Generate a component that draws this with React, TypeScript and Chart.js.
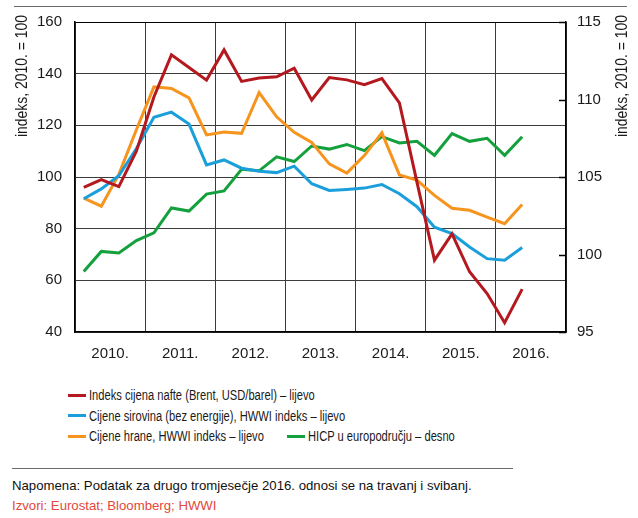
import React, { useEffect, useRef } from "react";
import { Chart, registerables } from "chart.js";

Chart.register(...registerables);

const quarters = [
  "2010Q1", "2010Q2", "2010Q3", "2010Q4",
  "2011Q1", "2011Q2", "2011Q3", "2011Q4",
  "2012Q1", "2012Q2", "2012Q3", "2012Q4",
  "2013Q1", "2013Q2", "2013Q3", "2013Q4",
  "2014Q1", "2014Q2", "2014Q3", "2014Q4",
  "2015Q1", "2015Q2", "2015Q3", "2015Q4",
  "2016Q1", "2016Q2",
];
const yearLabels = ["2010.", "2011.", "2012.", "2013.", "2014.", "2015.", "2016."];

const oil = [96, 99, 96.3, 110, 131, 147.3, 142.4, 137.5, 149.2, 137, 138.3, 138.8, 142.1, 129.8, 138.5, 137.6, 135.7, 138.1, 128.7, 98, 67.8, 78, 63.3, 54.9, 43.6, 56.6];
const rawMaterials = [91.6, 95.4, 100.5, 111, 123.1, 125.1, 120.5, 104.7, 106.6, 103.4, 102.2, 101.7, 104.2, 97.4, 94.8, 95.2, 95.7, 97.1, 93.5, 88.5, 80.6, 78.1, 72.9, 68.4, 67.8, 72.7];
const food = [91.8, 88.7, 101, 118.3, 134.9, 134.3, 130.6, 116.3, 117.4, 116.9, 132.7, 123.3, 117.3, 113.4, 105.1, 101.5, 108.3, 117.1, 100.8, 98.8, 92.9, 87.9, 87.1, 84.5, 81.9, 89.4];
const hicp = [98.9, 100.2, 100.1, 100.9, 101.4, 103.0, 102.8, 103.9, 104.1, 105.5, 105.4, 106.3, 106.0, 107.0, 106.8, 107.1, 106.7, 107.6, 107.2, 107.3, 106.4, 107.8, 107.3, 107.5, 106.4, 107.6];

const legendItems = [
  "Indeks cijena nafte (Brent, USD/barel) – lijevo",
  "Cijene sirovina (bez energije), HWWI indeks – lijevo",
  "Cijene hrane, HWWI indeks – lijevo",
  "HICP u europodručju – desno",
];
const yTitle = "indeks, 2010. = 100";
const noteText = "Napomena: Podatak za drugo tromjesečje 2016. odnosi se na travanj i svibanj.";
const sourceText = "Izvori: Eurostat; Bloomberg; HWWI";

const RED = "#b3191f";
const BLUE = "#1a9fdb";
const ORANGE = "#f7941d";
const GREEN = "#14a03c";

const SANS = '"Liberation Sans", Arial, sans-serif';
const TEXT = "#1a1a1a";

const toPoints = (arr: number[]) => arr.map((v, i) => ({ x: i + 0.5, y: v }));

const decor = {
  id: "decor",
  afterDraw(chart: any) {
    const ctx = chart.ctx;
    const y1 = chart.scales.y1;
    const area = chart.chartArea;
    ctx.save();
    ctx.strokeStyle = "#000";
    ctx.lineWidth = 1.5;
    y1.ticks.forEach((t: any) => {
      const py = Math.round(y1.getPixelForValue(t.value)) + 0.5;
      ctx.beginPath();
      ctx.moveTo(area.right - 7, py);
      ctx.lineTo(area.right, py);
      ctx.stroke();
    });
    ctx.font = "17px " + SANS;
    ctx.fillStyle = TEXT;
    ctx.textAlign = "right";
    ctx.textBaseline = "middle";
    [22, 622].forEach((x) => {
      ctx.save();
      ctx.translate(x, 15);
      ctx.rotate(-Math.PI / 2);
      ctx.scale(0.82, 1);
      ctx.fillText(yTitle, 0, 0);
      ctx.restore();
    });
    ctx.restore();
  },
};

function ChartCanvas() {
  const ref = useRef<HTMLCanvasElement | null>(null);
  useEffect(() => {
    if (!ref.current) return;
    const tickFont = { family: SANS, size: 15 };
    const chart = new Chart(ref.current, {
      type: "line",
      data: {
        datasets: [
          { label: legendItems[0], data: toPoints(oil), borderColor: RED, yAxisID: "y" },
          { label: legendItems[1], data: toPoints(rawMaterials), borderColor: BLUE, yAxisID: "y" },
          { label: legendItems[2], data: toPoints(food), borderColor: ORANGE, yAxisID: "y" },
          { label: legendItems[3], data: toPoints(hicp), borderColor: GREEN, yAxisID: "y1" },
        ].map((d) => ({ ...d, borderWidth: 3, pointRadius: 0, tension: 0, fill: false })),
      },
      options: {
        animation: false,
        responsive: false,
        events: [],
        layout: { padding: { top: 21, left: 0, right: 0, bottom: 0 } },
        plugins: { legend: { display: false }, tooltip: { enabled: false } },
        scales: {
          x: {
            type: "linear",
            min: 0,
            max: quarters.length + 2,
            afterBuildTicks: (s: any) => {
              const t = [];
              for (let v = 0; v <= 28; v += 2) t.push({ value: v });
              s.ticks = t;
            },
            afterFit: (s: any) => { s.height = 38; },
            ticks: {
              autoSkip: false,
              maxRotation: 0,
              padding: 13,
              color: TEXT,
              font: tickFont,
              callback: (v: any) => (v % 4 === 2 ? yearLabels[(v - 2) / 4] : ""),
            },
            grid: {
              drawTicks: false,
              lineWidth: 1,
              color: (c: any) => (c.tick && c.tick.value % 4 === 0 ? "#3c3c3c" : "rgba(0,0,0,0)"),
            },
            border: { display: true, color: "#000", width: 1.5 },
          },
          y: {
            position: "left",
            min: 40,
            max: 160,
            afterFit: (s: any) => { s.width = 75; },
            ticks: { stepSize: 20, padding: 13, color: TEXT, font: tickFont },
            grid: {
              drawTicks: false,
              lineWidth: 1,
              color: (c: any) => (c.tick && c.tick.value === 160 ? "#000" : "#3c3c3c"),
            },
            border: { display: true, color: "#000", width: 1.5 },
          },
          y1: {
            position: "right",
            min: 95,
            max: 115,
            afterFit: (s: any) => { s.width = 72; },
            ticks: { stepSize: 5, padding: 11, color: TEXT, font: tickFont },
            grid: { drawOnChartArea: false, drawTicks: false },
            border: { display: true, color: "#000", width: 1.5 },
          },
        },
      } as any,
      plugins: [decor],
    });
    return () => chart.destroy();
  }, []);
  return <canvas ref={ref} width={638} height={370} style={{ position: "absolute", left: 0, top: 0, width: 638, height: 370 }} />;
}

function LegendRow({ color, text, top, left }: { color: string; text: string; top: number; left: number }) {
  return (
    <div style={{ position: "absolute", top, left, height: 20, display: "flex", alignItems: "center", whiteSpace: "nowrap" }}>
      <span style={{ display: "inline-block", width: 18, height: 3, background: color, marginRight: 3, flex: "none" }} />
      <span
        style={{
          display: "inline-block",
          fontFamily: SANS,
          fontSize: 15.5,
          lineHeight: "20px",
          color: TEXT,
          transform: "scaleX(0.72)",
          transformOrigin: "left center",
        }}
      >
        {text}
      </span>
    </div>
  );
}

export default function App() {
  return (
    <div style={{ position: "absolute", left: 0, top: 0, width: 638, height: 518, background: "#fff", overflow: "hidden" }}>
      <div style={{ position: "absolute", left: 14, top: 6, width: 613, height: 1, background: "#6b6b6b" }} />
      <ChartCanvas />
      <LegendRow color={RED} text={legendItems[0]} top={385} left={68} />
      <LegendRow color={BLUE} text={legendItems[1]} top={405.5} left={68} />
      <LegendRow color={ORANGE} text={legendItems[2]} top={426} left={68} />
      <LegendRow color={GREEN} text={legendItems[3]} top={426} left={287} />
      <div style={{ position: "absolute", left: 12, top: 468, width: 501, height: 1, background: "#6b6b6b" }} />
      <div style={{ position: "absolute", left: 12, top: 476, fontFamily: SANS, fontSize: 13.2, lineHeight: "19.5px", whiteSpace: "nowrap" }}>
        <div style={{ color: "#111" }}>{noteText}</div>
        <div style={{ color: "#e4473b" }}>{sourceText}</div>
      </div>
    </div>
  );
}
